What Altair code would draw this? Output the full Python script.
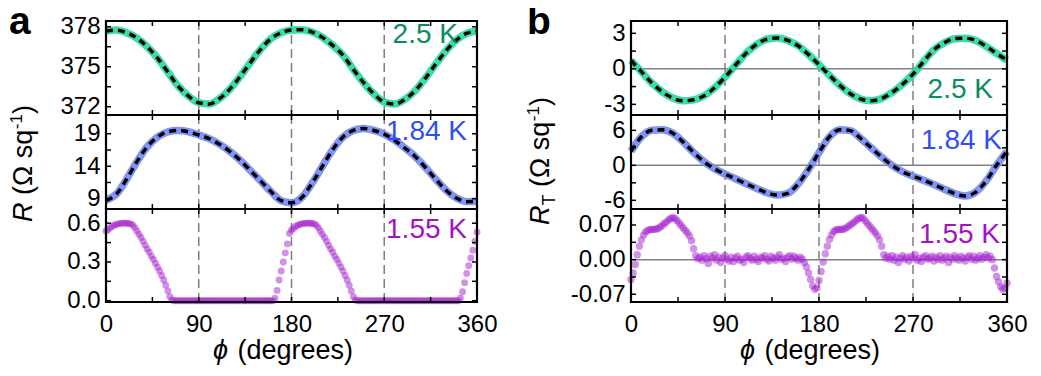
import altair as alt
import pandas as pd

# ---------------- data ----------------
phi_fit = list(range(0, 361, 10))      # smooth curves, every 10 degrees
phi_pts = list(range(0, 361, 2))       # 1.55 K scatter, every 2 degrees

# panel a : R (Ohm/sq)
R_25K = [377.68, 377.75, 377.55, 377.15, 376.5, 375.65, 374.6, 373.55, 372.8, 372.3,
         372.2, 372.6, 373.3, 374.25, 375.3, 376.3, 377.1, 377.55, 377.75, 377.78,
         377.6, 377.2, 376.6, 375.85, 374.8, 373.8, 372.95, 372.35, 372.2, 372.55,
         373.2, 374.15, 375.2, 376.2, 377.0, 377.5, 377.68]
R_184K = [8.75, 9.7, 12.0, 14.7, 17.0, 18.5, 19.3, 19.5, 19.3, 18.8,
          18.25, 17.4, 16.3, 14.95, 13.35, 11.75, 10.1, 8.7, 8.4, 9.2,
          11.4, 14.0, 16.55, 18.5, 19.5, 19.8, 19.5, 18.95, 18.0, 16.8,
          15.5, 13.8, 12.0, 10.3, 9.1, 8.55, 8.6]
R_155K_0_64 = [0.54, 0.55, 0.565, 0.575, 0.585, 0.59, 0.595, 0.598, 0.6, 0.6,
               0.6, 0.598, 0.595, 0.585, 0.565, 0.54, 0.515, 0.49, 0.46, 0.43,
               0.40, 0.375, 0.345, 0.32, 0.29, 0.26, 0.23, 0.195, 0.16, 0.12,
               0.075, 0.03, 0.005]
R_155K_66_162 = [0.0, 0.0, 0.0, 0.0, 0.0, 0.0, 0.0, 0.0, 0.0, 0.0,
                 0.0, 0.0, 0.0, 0.0, 0.0, 0.0, 0.0, 0.0, 0.0, 0.0,
                 0.0, 0.0, 0.0, 0.0, 0.0, 0.0, 0.0, 0.0, 0.0, 0.0,
                 0.0, 0.0, 0.0, 0.0, 0.0, 0.0, 0.0, 0.0, 0.0, 0.0,
                 0.0, 0.0, 0.0, 0.0, 0.0, 0.0, 0.0, 0.0, 0.0]
R_155K_164_242 = [0.02, 0.08, 0.16, 0.23, 0.30, 0.37, 0.44, 0.52, 0.545, 0.56,
                  0.575, 0.585, 0.59, 0.595, 0.598, 0.6, 0.6, 0.6, 0.598, 0.595,
                  0.585, 0.565, 0.54, 0.515, 0.49, 0.46, 0.43, 0.40, 0.375, 0.345,
                  0.32, 0.29, 0.26, 0.23, 0.195, 0.16, 0.12, 0.075, 0.03, 0.005]
R_155K_244_342 = [0.0, 0.0, 0.0, 0.0, 0.0, 0.0, 0.0, 0.0, 0.0, 0.0,
                  0.0, 0.0, 0.0, 0.0, 0.0, 0.0, 0.0, 0.0, 0.0, 0.0,
                  0.0, 0.0, 0.0, 0.0, 0.0, 0.0, 0.0, 0.0, 0.0, 0.0,
                  0.0, 0.0, 0.0, 0.0, 0.0, 0.0, 0.0, 0.0, 0.0, 0.0,
                  0.0, 0.0, 0.0, 0.0, 0.0, 0.0, 0.0, 0.0, 0.0, 0.0]
R_155K_344_360 = [0.02, 0.07, 0.14, 0.21, 0.27, 0.33, 0.39, 0.46, 0.53]
R_155K = R_155K_0_64 + R_155K_66_162 + R_155K_164_242 + R_155K_244_342 + R_155K_344_360

# panel b : R_T (Ohm/sq)
RT_25K = [0.72, -0.25, -1.2, -1.95, -2.47, -2.7, -2.62, -2.28, -1.6, -0.7,
          0.3, 1.3, 2.05, 2.5, 2.6, 2.4, 1.95, 1.2, 0.35, -0.55,
          -1.4, -2.1, -2.55, -2.7, -2.5, -2.0, -1.3, -0.45, 0.6, 1.6,
          2.2, 2.55, 2.58, 2.4, 1.9, 1.3, 0.72]
RT_184K = [2.4, 4.9, 6.0, 6.1, 5.5, 4.0, 2.2, 0.6, -0.6, -1.5,
           -2.3, -3.15, -3.95, -4.7, -5.1, -4.8, -3.2, -0.7, 2.2, 4.9,
           6.1, 5.95, 4.6, 3.0, 1.4, 0.0, -1.1, -1.85, -2.55, -3.3,
           -4.1, -4.85, -5.25, -4.6, -2.7, 0.0, 2.4]
RT_155K_0_64 = [-0.04, -0.027, -0.01, 0.01, 0.027, 0.04, 0.05, 0.056, 0.059, 0.061,
                0.061, 0.061, 0.062, 0.063, 0.066, 0.069, 0.073, 0.076, 0.08, 0.083,
                0.085, 0.083, 0.079, 0.074, 0.069, 0.064, 0.059, 0.054, 0.048, 0.038,
                0.022, 0.008, 0.002]
RT_155K_66_164 = [0.005, -0.001, 0.008, 0.002, -0.008, 0.007, 0.003, 0.010, -0.001, 0.005,
                  -0.006, 0.003, 0.008, 0.001, -0.003, 0.005, -0.004, 0.003, 0.007, -0.001,
                  0.001, -0.006, 0.005, 0.008, 0.003, -0.001, 0.007, 0.001, -0.004, 0.005,
                  0.003, 0.008, 0.001, -0.003, 0.007, 0.003, -0.001, 0.005, 0.010, 0.001,
                  0.003, -0.004, 0.005, 0.008, 0.001, 0.007, 0.003, -0.001, 0.005, 0.001]
RT_155K_166_244 = [-0.006, -0.015, -0.027, -0.04, -0.053, -0.06, -0.057, -0.042, -0.024, -0.005,
                   0.012, 0.027, 0.041, 0.05, 0.057, 0.06, 0.061, 0.061, 0.061, 0.062,
                   0.064, 0.067, 0.07, 0.073, 0.076, 0.08, 0.083, 0.085, 0.084, 0.079,
                   0.074, 0.069, 0.064, 0.059, 0.054, 0.048, 0.04, 0.027, 0.01, 0.003]
RT_155K_246_344 = [0.007, 0.001, 0.008, -0.001, 0.005, -0.006, 0.003, 0.008, 0.001, 0.005,
                   -0.003, 0.007, 0.003, 0.010, -0.001, 0.003, -0.004, 0.005, 0.008, 0.001,
                   0.003, 0.007, -0.003, 0.005, 0.001, 0.008, -0.001, 0.003, 0.007, -0.006,
                   0.005, 0.001, 0.008, 0.003, -0.001, 0.007, 0.003, -0.003, 0.005, 0.008,
                   0.001, 0.007, -0.001, 0.003, 0.008, 0.001, 0.005, 0.010, 0.003, 0.007]
RT_155K_346_360 = [0.0, -0.017, -0.034, -0.045, -0.055, -0.06, -0.057, -0.047]
RT_155K = RT_155K_0_64 + RT_155K_66_164 + RT_155K_166_244 + RT_155K_246_344 + RT_155K_346_360

x_label_values = [0, 90, 180, 270, 360]
x_tick_values = [45, 90, 135, 180, 225, 270, 315]
guide_phi = [90, 180, 270]

# ---------------- styling ----------------
FONT = "Liberation Sans"
W_A, W_B = 371, 376
HEIGHTS = [94, 94, 93]
GREEN, GREEN_T = "#26d99c", "#0b8c5f"
BLUE, BLUE_T = "#7388f2", "#2f4ff5"
PURPLE, PURPLE_T = "#a524cf", "#a213c6"
one = pd.DataFrame({"k": [0]})


def txt(text, x, y, size, color="black", align="left", angle=0, dx=0, dy=0,
        style="normal", weight="normal"):
    props = dict(text=text, align=align, baseline="alphabetic", fontSize=size, font=FONT,
                 color=color, dx=dx, dy=dy, fontStyle=style, fontWeight=weight)
    if angle:
        props["angle"] = angle
    return alt.Chart(one).mark_text(**props).encode(x=alt.value(x), y=alt.value(y))


def subplot(width, height, ydom, ylabels, yticks, yfmt, kind, phis, yvals, color,
            label, label_color, lx, ly, show_x, zero_line, extras, psize=48):
    if show_x:
        xaxis = alt.Axis(values=x_label_values, ticks=False, tickSize=0, domain=False,
                         grid=False, title=None, labelFontSize=24, labelFont=FONT,
                         labelColor="black", labelPadding=10, labelFlush=False,
                         labelOverlap=False)
    else:
        xaxis = None
    X = alt.X("x:Q", scale=alt.Scale(domain=[0, 360], nice=False, zero=False), axis=xaxis)
    yaxis = alt.Axis(values=ylabels, format=yfmt,
                     labelExpr="replace(datum.label, '\u2212', '-')",
                     ticks=False, tickSize=0, domain=False, grid=False, title=None,
                     labelFontSize=24, labelFont=FONT, labelColor="black",
                     labelPadding=6, labelOverlap=False)
    Y = alt.Y("y:Q", scale=alt.Scale(domain=ydom, nice=False, zero=False), axis=yaxis)

    layers = [alt.Chart(pd.DataFrame({"x": guide_phi}))
              .mark_rule(color="#7f7f7f", strokeWidth=1.5, strokeDash=[9, 5])
              .encode(x=X)]
    if zero_line:
        layers.append(alt.Chart(pd.DataFrame({"y": [0]}))
                      .mark_rule(color="#808080", strokeWidth=1.5).encode(y=Y))
    df = pd.DataFrame({"x": phis, "y": yvals})
    if kind == "line":
        layers.append(alt.Chart(df).mark_line(color=color, strokeWidth=7.5, opacity=0.9,
                                              interpolate="monotone").encode(x=X, y=Y))
        layers.append(alt.Chart(df).mark_line(color="black", strokeWidth=3.5,
                                              strokeDash=[7, 5],
                                              interpolate="monotone").encode(x=X, y=Y))
    else:
        layers.append(alt.Chart(df).mark_circle(color=color, size=psize, opacity=0.5)
                      .encode(x=X, y=Y))
    xt = pd.DataFrame({"x": x_tick_values})
    yt = pd.DataFrame({"y": yticks})
    tick = dict(color="black", strokeWidth=1.5)
    layers.append(alt.Chart(xt).mark_rule(**tick).encode(x=X, y=alt.value(0), y2=alt.value(5)))
    layers.append(alt.Chart(xt).mark_rule(**tick).encode(x=X, y=alt.value(height - 5),
                                                         y2=alt.value(height)))
    layers.append(alt.Chart(yt).mark_rule(**tick).encode(y=Y, x=alt.value(0), x2=alt.value(5)))
    layers.append(alt.Chart(yt).mark_rule(**tick).encode(y=Y, x=alt.value(width - 5),
                                                         x2=alt.value(width)))
    # black frame of the panel, drawn on top
    layers.append(alt.Chart(one).mark_rect(fillOpacity=0, stroke="black", strokeWidth=2.2)
                  .encode(x=alt.value(0), x2=alt.value(width),
                          y=alt.value(0), y2=alt.value(height)))
    layers.append(txt(label, lx, ly, 28, color=label_color, align="right"))
    layers += extras
    return alt.layer(*layers).properties(width=width, height=height)


# ---- panel a ----
a_title = [txt("R", -74, 107, 27, angle=270, style="italic"),
           txt("(\u03a9 sq", -74, 107, 27, angle=270, dx=27),
           txt("-1", -74, 107, 17, angle=270, dx=92.8, dy=-10),
           txt(")", -74, 107, 27, angle=270, dx=108)]
a_xtitle = [txt("\u03d5", 107, 150, 27, style="italic"),
            txt("(degrees)", 107, 150, 27, dx=24.5)]

a1 = subplot(W_A, HEIGHTS[0], [371.38, 378.43], [372, 375, 378],
             [372, 373.5, 375, 376.5, 378], "d", "line", phi_fit, R_25K, GREEN,
             "2.5 K", GREEN_T, W_A - 19, 22, False, False,
             [txt("a", -97, 13, 39, weight="bold")])
a2 = subplot(W_A, HEIGHTS[1], [7.42, 21.88], [9, 14, 19], [9, 11.5, 14, 16.5, 19], "d",
             "line", phi_fit, R_184K, BLUE, "1.84 K", BLUE_T, W_A - 10, 25, False, False,
             a_title)
a3 = subplot(W_A, HEIGHTS[2], [-0.01, 0.71], [0, 0.3, 0.6], [0, 0.15, 0.3, 0.45, 0.6],
             ".1f", "points", phi_pts, R_155K, PURPLE, "1.55 K", PURPLE_T, W_A - 10, 29,
             True, False, a_xtitle)

# ---- panel b ----
b_title = [txt("R", -82, 110, 27, angle=270, style="italic"),
           txt("T", -82, 110, 18, angle=270, dx=19.5, dy=6),
           txt("(\u03a9 sq", -82, 110, 27, angle=270, dx=38),
           txt("-1", -82, 110, 17, angle=270, dx=103.8, dy=-10),
           txt(")", -82, 110, 27, angle=270, dx=119)]
b_xtitle = [txt("\u03d5", 109, 150, 27, style="italic"),
            txt("(degrees)", 109, 150, 27, dx=24.5)]

b1 = subplot(W_B, HEIGHTS[0], [-3.9, 4.04], [-3, 0, 3], [-3, -1.5, 0, 1.5, 3], "d",
             "line", phi_fit, RT_25K, GREEN, "2.5 K", GREEN_T, W_B - 14, 77, False, True,
             [txt("b", -104, 13, 39, weight="bold")])
b2 = subplot(W_B, HEIGHTS[1], [-7.49, 8.63], [-6, 0, 6], [-6, -3, 0, 3, 6], "d", "line",
             phi_fit, RT_184K, BLUE, "1.84 K", BLUE_T, W_B - 5, 34, False, True, b_title)
b3 = subplot(W_B, HEIGHTS[2], [-0.0856, 0.1023], [-0.07, 0, 0.07],
             [-0.07, -0.035, 0, 0.035, 0.07], ".2f", "points", phi_pts, RT_155K, PURPLE,
             "1.55 K", PURPLE_T, W_B - 7, 34, True, True, b_xtitle, psize=55)

chart = (alt.concat(a1, b1, a2, b2, a3, b3, columns=2,
                    spacing={"row": 0, "column": 154}, bounds="flush", align="each")
         .properties(padding={"left": 98, "top": 13, "right": 927, "bottom": 347},
                     autosize=alt.AutoSizeParams(type="none"))
         .configure_view(stroke="transparent", strokeWidth=0))

chart.save("out.html", embed_options={"renderer": "svg", "actions": False})
